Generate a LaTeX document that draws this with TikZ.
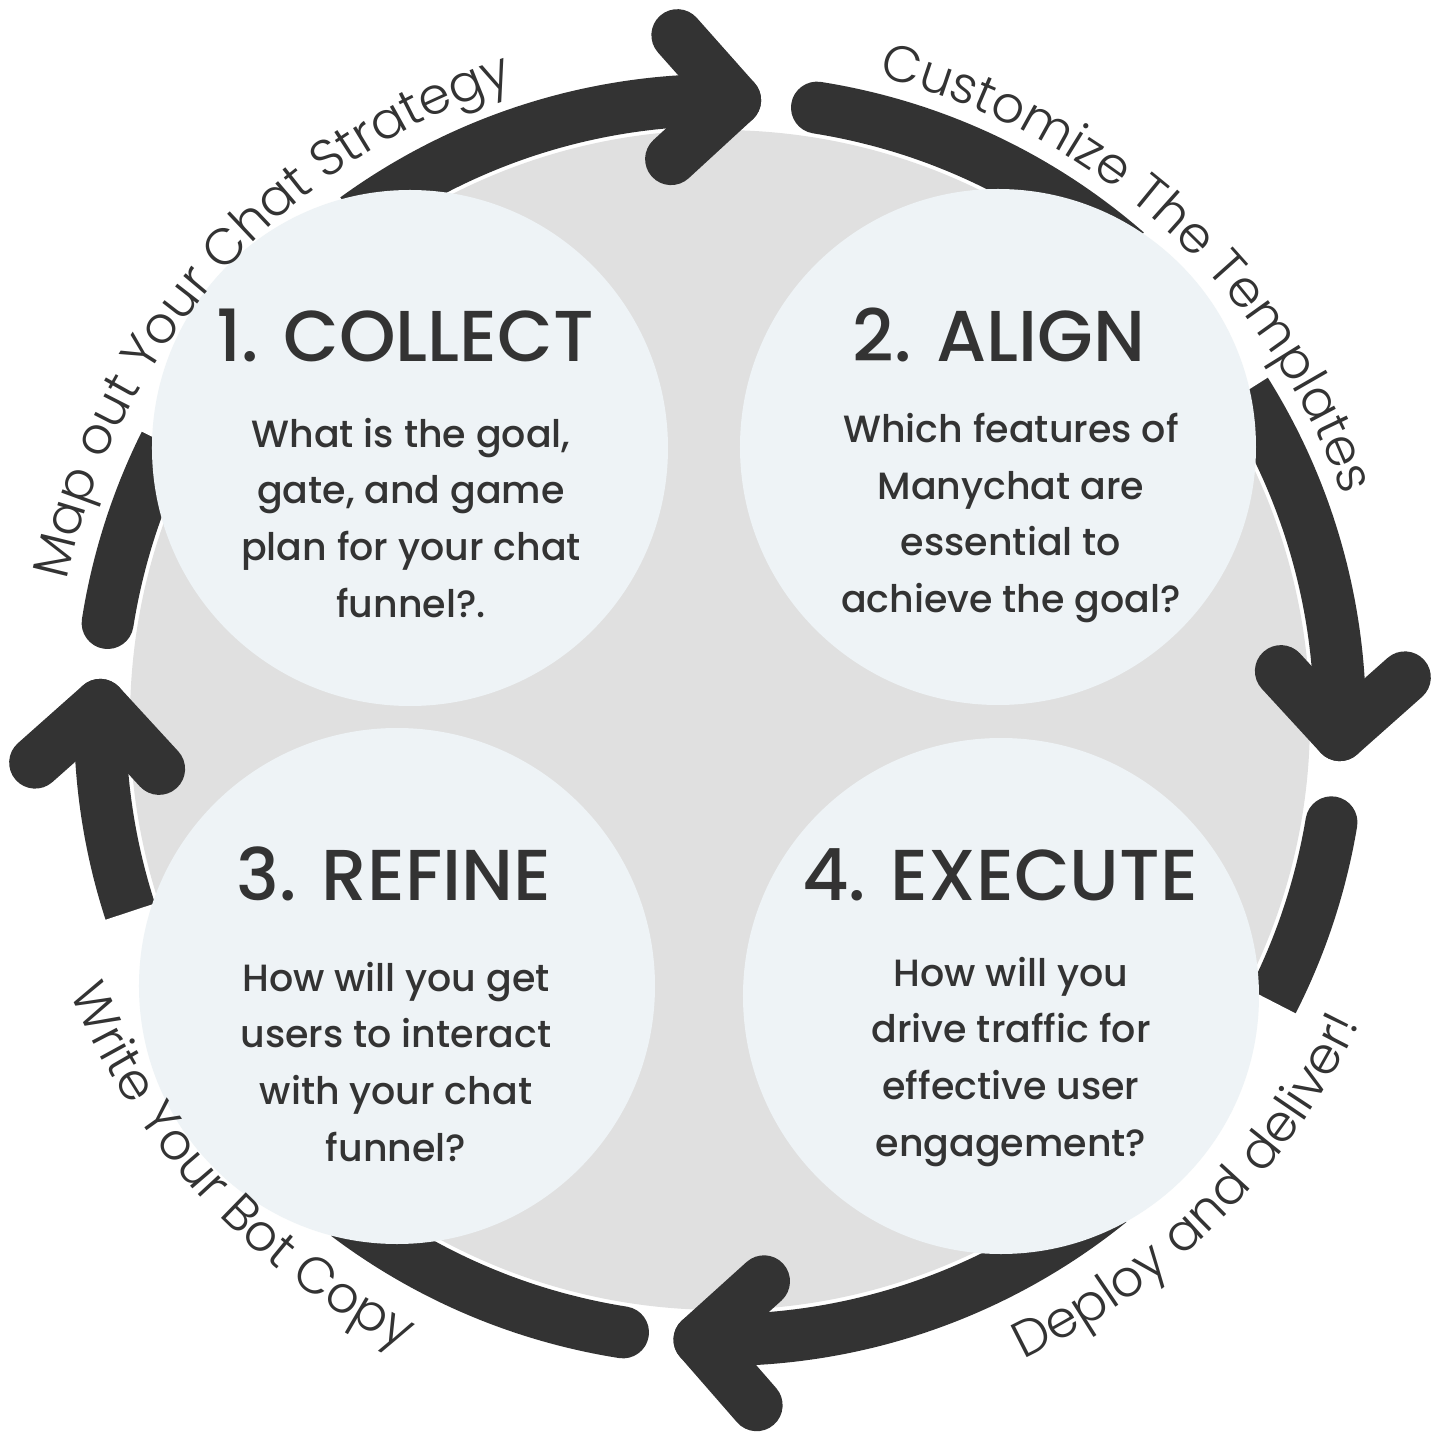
\documentclass[tikz,border=0pt]{standalone}
\usepackage{fontspec}
\setmainfont{Poppins}
\newfontfamily\arcfont{Poppins Light}
\newfontfamily\medfont{Poppins Medium}
\usetikzlibrary{positioning,calc,decorations.text}

\definecolor{ink}{HTML}{333333}
\definecolor{ring}{HTML}{E0E0E0}
\definecolor{wash}{HTML}{EEF3F6}

\begin{document}
\begin{tikzpicture}[
    blob/.style={circle, fill=wash, minimum size=5.16cm, inner sep=0pt},
    title/.style={anchor=base, text=ink, font=\medfont\fontsize{20.5}{25}\selectfont},
    question/.style={align=center, text=ink, font=\medfont\fontsize{10.8}{16.2}\selectfont},
    arcline/.style={ink, line width=0.52cm, line cap=round, line join=round},
    gap/.style={white, line width=0.60cm},
    arctext/.style={decorate, decoration={text along path, text align=center}}
]
\fill[white] (-7.2,-7.2) rectangle (7.2,7.2);
\useasboundingbox (-7.2,-7.2) rectangle (7.2,7.2);

% grey disc behind everything
\fill[ring] (0,0) circle (5.9);

% four curved arrows, tail angle / hidden part under the blobs
\foreach \s/\ha/\hb in {171/153.5/126, 81/49/32, -9.5/-27/-51, -99/-127/-162} {
    \pgfmathsetmacro{\v}{\s-82.4}
    \draw[arcline] (\s:6.2) arc[start angle=\s, end angle=\v, radius=6.2];
    \draw[arcline] ($(\v:6.2)+({\v+43}:0.87)$) -- (\v:6.2) -- ++({\v+134}:0.87);
    \draw[gap] (\ha:6.2) arc[start angle=\ha, end angle=\hb, radius=6.2];
}

\node[blob] (collect) at (-3.10,2.72) {};
\node[blob] (align) at (2.78,2.73) {};
\node[blob] (refine) at (-3.23,-2.66) {};
\node[blob] (execute) at (2.81,-2.76) {};

\node[title] (collect-t) at (-3.15,3.58) {1. COLLECT};
\node[title] (align-t) at (2.79,3.58) {2. ALIGN};
\node[title] (refine-t) at (-3.26,-1.80) {3. REFINE};
\node[title] (execute-t) at (2.80,-1.80) {4. EXECUTE};

\node[question] (collect-q) at (-3.09,2.02) {What is the goal,\\gate, and game\\plan for your chat\\funnel?.};
\node[question] (align-q) at (2.91,2.02) {Which features of\\Manychat are\\essential to\\achieve the goal?};
\node[question] (refine-q) at (-3.24,-3.42) {How will you get\\users to interact\\with your chat\\funnel?};
\node[question] (execute-q) at (2.91,-3.42) {How will you\\drive traffic for\\effective user\\engagement?};

% labels along the ring
\path[arctext, decoration={text={|\arcfont\fontsize{14.5}{18}\selectfont\color{ink}|Map out Your Chat Strategy}}]
    (180:6.68) arc[start angle=180, end angle=96, radius=6.68];
\path[arctext, decoration={text={|\arcfont\fontsize{14.5}{18}\selectfont\color{ink}|Customize The Templates}}]
    (92:6.62) arc[start angle=92, end angle=4, radius=6.62];
\path[arctext, decoration={text={|\arcfont\fontsize{14.5}{18}\selectfont\color{ink}|Deploy and deliver!}}]
    (-90:7.08) arc[start angle=-90, end angle=0, radius=7.08];
\path[arctext, decoration={text={|\arcfont\fontsize{14.5}{18}\selectfont\color{ink}|Write Your Bot Copy}}]
    (-182:7.05) arc[start angle=-182, end angle=-92, radius=7.05];
\end{tikzpicture}
\end{document}
